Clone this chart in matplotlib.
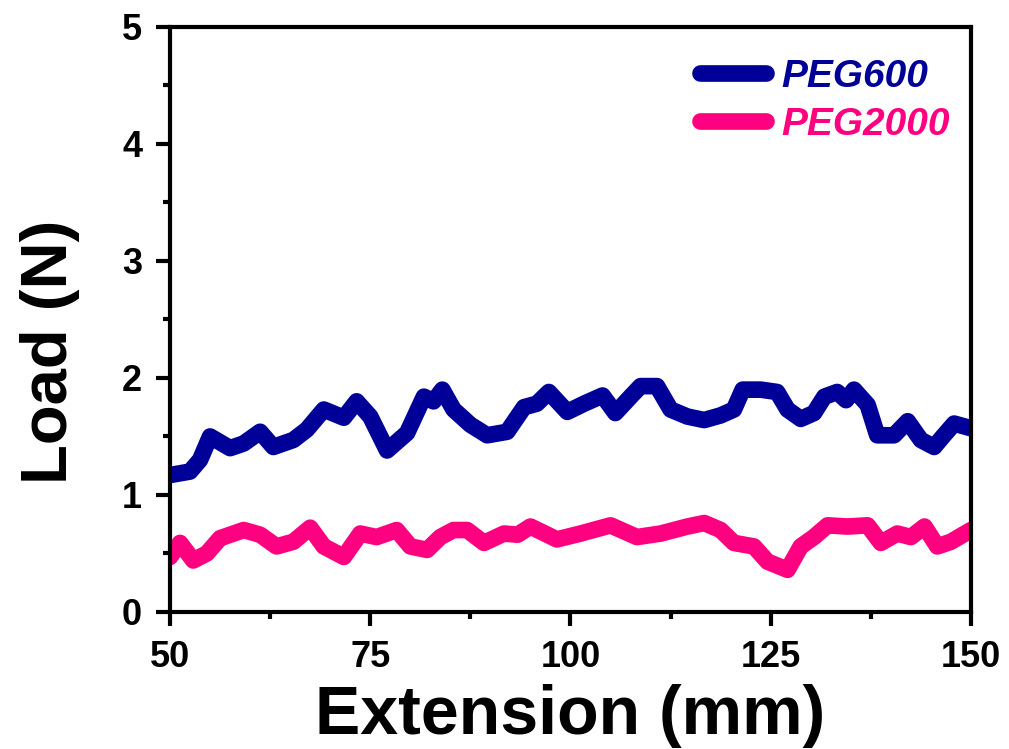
import numpy as np
import matplotlib
matplotlib.use("Agg")
import matplotlib.pyplot as plt
from matplotlib.ticker import MultipleLocator

plt.rcParams["font.family"] = ["Liberation Sans", "DejaVu Sans"]
plt.rcParams["font.weight"] = "bold"

# values
peg600_x = [50.0, 52.5, 53.75, 55.0, 57.5, 59.2, 61.25, 62.9, 65.4, 67.1, 69.2, 71.7,
            73.3, 75.0, 77.1, 79.6, 81.7, 82.9, 84.0, 85.4, 87.5, 89.6, 92.1, 94.2,
            95.8, 97.3, 99.6, 101.7, 104.0, 105.6, 107.5, 108.75, 110.8, 112.5, 114.6,
            116.7, 118.75, 120.4, 121.5, 123.75, 125.8, 127.1, 128.75, 130.4, 131.7,
            133.3, 134.4, 135.4, 137.1, 138.3, 140.4, 142.1, 143.75, 145.4, 146.5,
            147.9, 150.0]
peg600_y = [1.17, 1.20, 1.30, 1.50, 1.40, 1.44, 1.54, 1.41, 1.47, 1.56, 1.73, 1.66,
            1.80, 1.67, 1.38, 1.53, 1.84, 1.80, 1.90, 1.73, 1.60, 1.51, 1.54, 1.75,
            1.78, 1.88, 1.71, 1.78, 1.85, 1.70, 1.84, 1.93, 1.93, 1.73, 1.67,
            1.64, 1.68, 1.73, 1.90, 1.90, 1.88, 1.73, 1.65, 1.70, 1.84,
            1.88, 1.81, 1.90, 1.77, 1.51, 1.51, 1.63, 1.47, 1.41, 1.50,
            1.61, 1.57]

peg2000_x = [50.0, 51.25, 52.9, 54.6, 56.25, 59.2, 61.25, 63.3, 65.4, 67.5, 69.2, 71.7,
             73.75, 75.8, 78.3, 80.0, 82.1, 83.75, 85.4, 87.1, 89.2, 91.7, 93.4, 95.0,
             98.3, 101.25, 105.0, 108.3, 111.25, 114.6, 116.7, 118.75, 120.4, 122.9,
             124.6, 127.1, 128.75, 130.4, 132.1, 134.6, 137.1, 138.75, 140.8, 142.5,
             144.2, 145.8, 147.5, 150.0]
peg2000_y = [0.47, 0.59, 0.44, 0.50, 0.63, 0.70, 0.66, 0.56, 0.60, 0.72, 0.56, 0.47,
             0.67, 0.64, 0.70, 0.56, 0.53, 0.64, 0.70, 0.70, 0.59, 0.67, 0.66, 0.73,
             0.62, 0.67, 0.74, 0.64, 0.67, 0.73, 0.76, 0.70, 0.59, 0.56,
             0.43, 0.36, 0.56, 0.64, 0.74, 0.73, 0.74, 0.59, 0.67, 0.64,
             0.73, 0.56, 0.60, 0.70]

blue = "#000099"
pink = "#ff0080"

fig = plt.figure(figsize=(10.09, 7.49), dpi=100)
ax = fig.add_axes([0.1685, 0.183, 0.7938, 0.781])

ax.plot(peg600_x, peg600_y, color=blue, lw=12, solid_capstyle="round",
        solid_joinstyle="round", label="PEG600")
ax.plot(peg2000_x, peg2000_y, color=pink, lw=12, solid_capstyle="round",
        solid_joinstyle="round", label="PEG2000")

ax.set_xlim(50, 150)
ax.set_ylim(0, 5)
ax.xaxis.set_major_locator(MultipleLocator(25))
ax.xaxis.set_minor_locator(MultipleLocator(12.5))
ax.yaxis.set_major_locator(MultipleLocator(1))
ax.yaxis.set_minor_locator(MultipleLocator(0.5))

for s in ax.spines.values():
    s.set_linewidth(3)
ax.tick_params(which="major", direction="out", length=10, width=3, labelsize=26, pad=10)
ax.tick_params(which="minor", direction="out", length=5, width=3)
ax.tick_params(top=False, right=False, which="both")

ax.set_xlabel("Extension (mm)", fontsize=49, fontweight="bold", labelpad=7)
ax.set_ylabel("Load (N)", fontsize=47, fontweight="bold")
ax.yaxis.set_label_coords(-0.112, 0.444)

leg = ax.legend(loc="upper right", bbox_to_anchor=(0.993, 0.972), frameon=False,
                handlelength=1.7, handletextpad=0.4, labelspacing=0.3,
                borderaxespad=0,
                prop={"style": "italic", "weight": "bold", "size": 28})
for t, c in zip(leg.get_texts(), [blue, pink]):
    t.set_color(c)

fig.savefig("out.png", dpi=100)
